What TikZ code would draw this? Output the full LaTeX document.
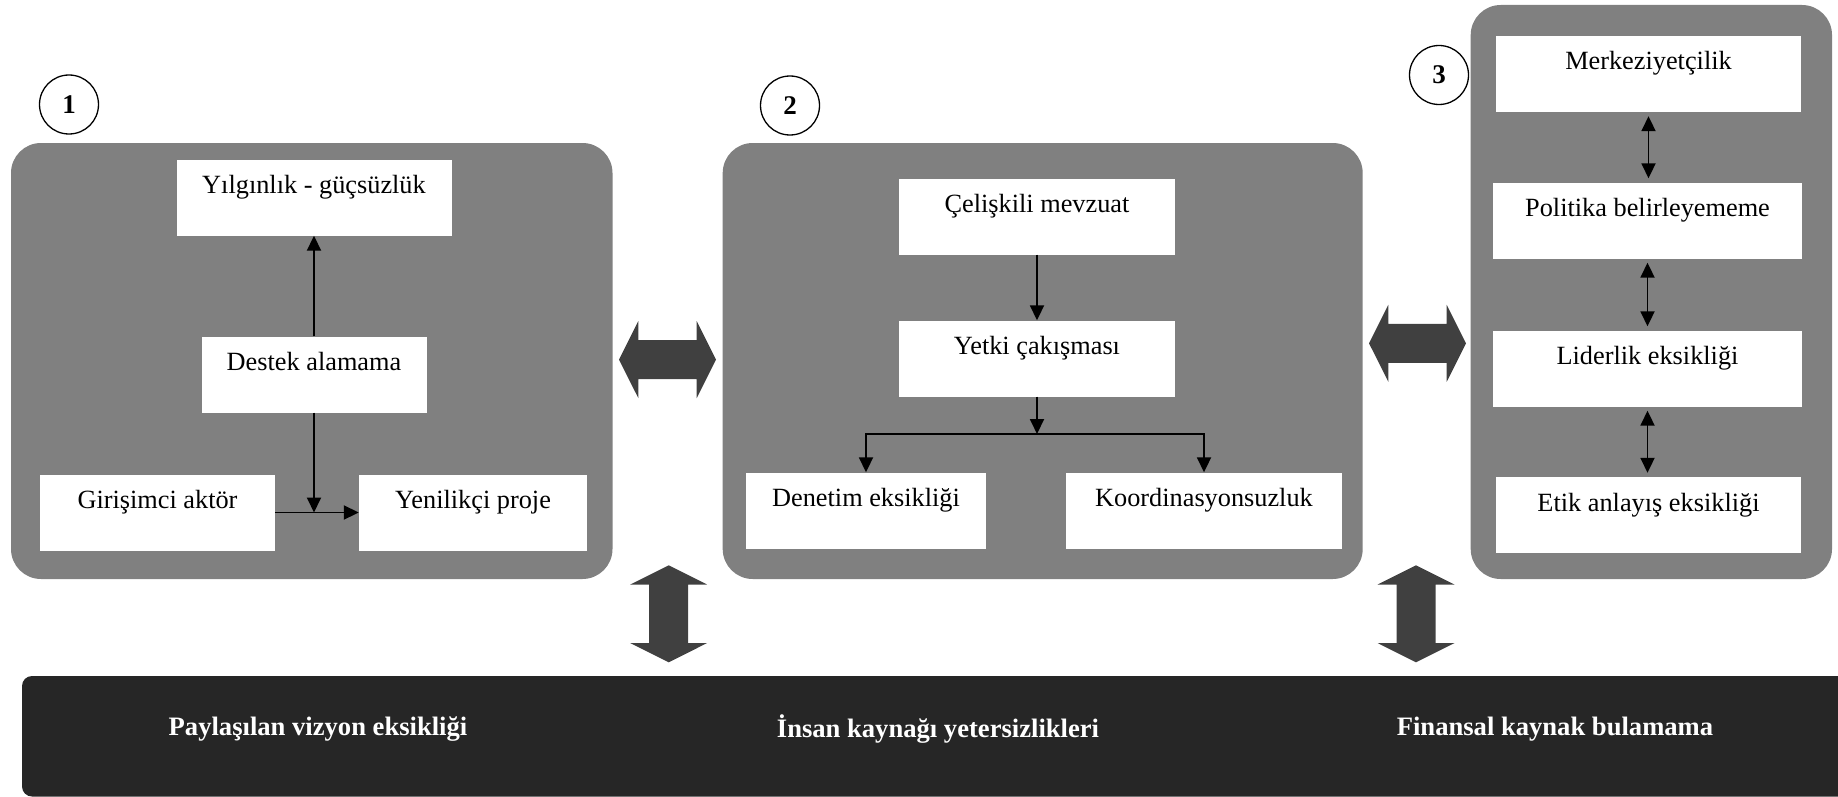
\documentclass[tikz,border=0pt]{standalone}
\usepackage{fontspec}
\setmainfont{Liberation Serif}
\usetikzlibrary{arrows.meta}

\definecolor{panelgray}{HTML}{808080}
\definecolor{blockdark}{HTML}{404040}
\definecolor{bardark}{HTML}{262626}

\tikzset{
  panel/.style={fill=panelgray, rounded corners=30pt},
  item/.style={fill=white, inner xsep=0pt, inner ysep=0pt,
    text height=34pt, text depth=42pt, minimum width=#1,
    font=\fontsize{26.3}{30}\selectfont},
  num/.style={draw, circle, line width=1.3pt, minimum size=59pt, inner sep=0pt,
    font=\fontsize{27}{30}\selectfont\bfseries},
  link/.style={line width=1.9pt, -{Triangle[length=15pt,width=14pt]}},
  both/.style={line width=1.9pt,
    {Triangle[length=15pt,width=14pt]}-{Triangle[length=15pt,width=14pt]}},
  bartext/.style={text=white, font=\fontsize{26.6}{30}\selectfont\bfseries},
  dblock/.pic={
    \fill[blockdark] (-48.5,0) -- (-29.2,-38.5) -- (-29.2,-19.5) -- (29.2,-19.5)
      -- (29.2,-38.5) -- (48.5,0) -- (29.2,38.5) -- (29.2,19.5)
      -- (-29.2,19.5) -- (-29.2,38.5) -- cycle;
  }
}

\begin{document}
\begin{tikzpicture}[x=1pt,y=-1pt]
\clip (0,0) rectangle (1838,797);

% three grey panels
\fill[panel] (11,143) rectangle (612.5,579);
\fill[panel] (722.7,143) rectangle (1362.7,579);
\fill[panel] (1470.7,5) rectangle (1832,579);

% panel numbers
\node[num] (c1) at (69,104.5) {1};
\node[num] (c2) at (790,105.5) {2};
\node[num] (c3) at (1439,75) {3};

% panel 1
\node[item=275pt] (yil) at (314,197.5) {Yılgınlık - güçsüzlük};
\node[item=225pt] (des) at (314,374.5) {Destek alamama};
\node[item=235pt] (gir) at (157.5,512.5) {Girişimci aktör};
\node[item=228pt] (yen) at (473,512.5) {Yenilikçi proje};
\draw[link] (des.north) -- (yil.south);
\draw[link] (des.south) -- (des.south |- gir.east);
\draw[link] (gir.east) -- (yen.west);

% panel 2
\node[item=276pt] (cel) at (1037,216.5) {Çelişkili mevzuat};
\node[item=276pt] (yet) at (1037,358.5) {Yetki çakışması};
\node[item=240pt] (den) at (866,510.5) {Denetim eksikliği};
\node[item=276pt] (koo) at (1204,510.5) {Koordinasyonsuzluk};
\coordinate (split) at (1037,434);
\draw[link] (cel.south) -- (yet.north);
\draw[link] (yet.south) -- (split);
\draw[link] (split) -| (den.north);
\draw[link] (split) -| (koo.north);

% panel 3
\node[item=305pt] (mer) at (1648.5,74) {Merkeziyetçilik};
\node[item=309pt] (pol) at (1647.5,220.5) {Politika belirleyememe};
\node[item=309pt] (lid) at (1647.5,368.5) {Liderlik eksikliği};
\node[item=305pt] (eti) at (1648.5,515) {Etik anlayış eksikliği};
\draw[both, shorten <=4pt, shorten >=4pt] (mer.south) -- (mer.south |- pol.north);
\draw[both, shorten <=4pt, shorten >=4pt] (pol.south) -- (pol.south |- lid.north);
\draw[both, shorten <=4pt, shorten >=4pt] (lid.south) -- (lid.south |- eti.north);

% block arrows between the panels and towards the bar
\pic at (667.5,359.6) {dblock};
\pic at (1417.5,343.3) {dblock};
\pic[rotate=90] at (668.7,613.8) {dblock};
\pic[rotate=90] at (1416,613.8) {dblock};

% bottom bar
\fill[bardark, rounded corners=10pt] (22,676) rectangle (1880,796.5);
\node[bartext] (b1) at (318,729) {Paylaşılan vizyon eksikliği};
\node[bartext] (b2) at (938,729) {İnsan kaynağı yetersizlikleri};
\node[bartext] (b3) at (1555,729) {Finansal kaynak bulamama};
\end{tikzpicture}
\end{document}
